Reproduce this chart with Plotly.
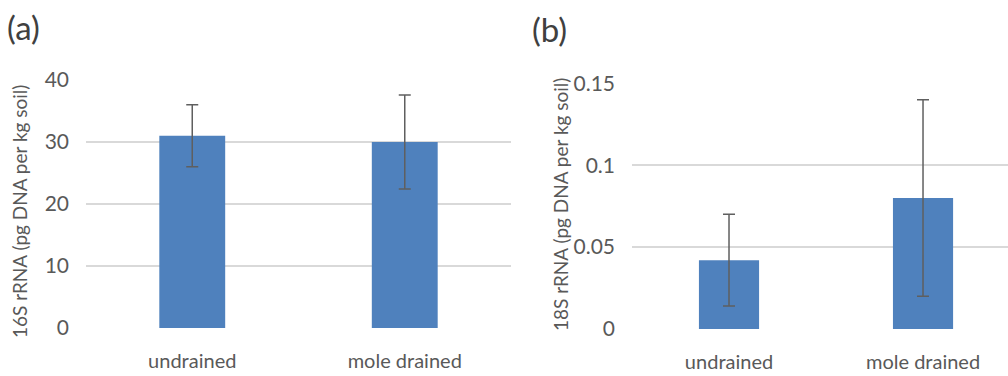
import plotly.graph_objects as go

# Categories and measured means with error values
categories = ["undrained", "mole drained"]
rna16s_mean = [31.0, 30.0]
rna16s_err = [5.0, 7.6]
rna18s_mean = [0.042, 0.080]
rna18s_err = [0.028, 0.060]

ticks_16s = [0, 10, 20, 30, 40]
ticks_18s = [0, 0.05, 0.1, 0.15]
ticks_18s_text = ["0", "0.05", "0.1", "0.15"]

BAR = "#4F81BD"
GRID = "#D9D9D9"
TXT = "#595959"
FONT = "Lato"

fig = go.Figure()

fig.add_trace(go.Bar(
    x=[0, 1], y=rna16s_mean, width=0.31, marker=dict(color=BAR, line=dict(width=0)),
    error_y=dict(type="data", array=rna16s_err, color="#5f5f5f", thickness=1.5, width=6),
    xaxis="x", yaxis="y", showlegend=False,
))
fig.add_trace(go.Bar(
    x=[0, 1], y=rna18s_mean, width=0.31, marker=dict(color=BAR, line=dict(width=0)),
    error_y=dict(type="data", array=rna18s_err, color="#5f5f5f", thickness=1.5, width=6),
    xaxis="x2", yaxis="y2", showlegend=False,
))

H = 376.0
W = 1008.0

common_x = dict(
    tickmode="array", tickvals=[0, 1], ticktext=categories,
    showgrid=False, zeroline=False, showline=False, ticks="", automargin=False,
    tickfont=dict(family=FONT, size=20, color=TXT), ticklabelstandoff=19,
    fixedrange=True,
)
common_y = dict(
    showgrid=True, gridcolor=GRID, gridwidth=2, zeroline=False, showline=False,
    ticks="", automargin=False,
    tickfont=dict(family=FONT, size=21, color=TXT), ticklabelstandoff=16,
)

fig.update_layout(
    width=1008, height=376,
    margin=dict(l=0, r=0, t=0, b=0),
    paper_bgcolor="white", plot_bgcolor="white",
    xaxis=dict(domain=[86 / W, 511 / W], range=[-0.5, 1.5], anchor="y", **common_x),
    yaxis=dict(domain=[(H - 328) / H, (H - 80) / H], range=[0, 40], anchor="x",
               tickvals=ticks_16s, **common_y),
    xaxis2=dict(domain=[632 / W, 1.0], range=[-0.5, 1.438], anchor="y2", **common_x),
    yaxis2=dict(domain=[(H - 329) / H, (H - 83.3) / H], range=[0, 0.15], anchor="x2",
                tickvals=ticks_18s, ticktext=ticks_18s_text, **common_y),
    annotations=[
        dict(text="(a)", x=5 / W, y=1 - 27 / H, xref="paper", yref="paper",
             xanchor="left", yanchor="middle", showarrow=False,
             font=dict(family=FONT, size=33, color="#404040")),
        dict(text="(b)", x=530 / W, y=1 - 29 / H, xref="paper", yref="paper",
             xanchor="left", yanchor="middle", showarrow=False,
             font=dict(family=FONT, size=33, color="#404040")),
        dict(text="16S rRNA (pg DNA per kg soil)", x=19 / W, y=1 - 212 / H,
             xref="paper", yref="paper", xanchor="center", yanchor="middle",
             textangle=-90, showarrow=False,
             font=dict(family=FONT, size=19, color=TXT)),
        dict(text="18S rRNA (pg DNA per kg soil)", x=560 / W, y=1 - 205 / H,
             xref="paper", yref="paper", xanchor="center", yanchor="middle",
             textangle=-90, showarrow=False,
             font=dict(family=FONT, size=19, color=TXT)),
    ],
)

fig.write_html("out.html")
